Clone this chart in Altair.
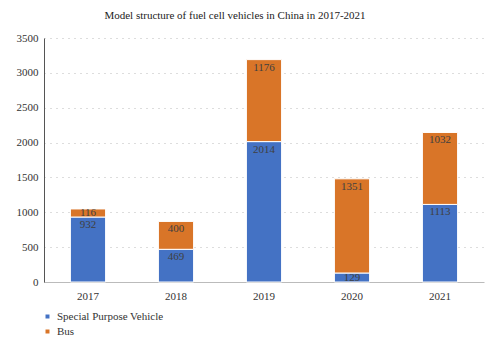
import altair as alt
import pandas as pd

years = ["2017", "2018", "2019", "2020", "2021"]
special = [932, 469, 2014, 129, 1113]
bus = [116, 400, 1176, 1351, 1032]
series = ["Special Purpose Vehicle", "Bus"]
colors = ["#4472C4", "#D97528"]
y_ticks = [0, 500, 1000, 1500, 2000, 2500, 3000, 3500]

rows = []
for y, s, b in zip(years, special, bus):
    rows.append({"year": y, "type": series[0], "value": s, "start": 0, "end": s, "ord": 0})
    rows.append({"year": y, "type": series[1], "value": b, "start": s, "end": s + b, "ord": 1})
df = pd.DataFrame(rows)

FONT = "Liberation Serif"

y_axis = alt.Axis(values=y_ticks, format="d", labelOverlap=False,
                  labelFont=FONT, labelFontSize=11, labelColor="#333",
                  ticks=False, domainColor="#555", gridColor="#bbb",
                  gridDash=[1, 5], labelPadding=6)
x_axis = alt.Axis(labelAngle=0, ticks=False, domainColor="#bbb", labelPadding=8,
                  labelFont=FONT, labelFontSize=11, labelColor="#333")
x_scale = alt.Scale(paddingInner=0.6, paddingOuter=0.3)
y_scale = alt.Scale(domain=[0, 3500])

base = alt.Chart(df)

bars = base.mark_bar(stroke="white", strokeWidth=1).encode(
    x=alt.X("year:N", title=None, sort=years, scale=x_scale, axis=x_axis),
    y=alt.Y("start:Q", title=None, scale=y_scale, axis=y_axis),
    y2="end:Q",
    color=alt.Color("type:N", sort=series, scale=alt.Scale(domain=series, range=colors),
                    legend=alt.Legend(title=None, orient="none", legendX=-2, legendY=273,
                                      symbolType="square", symbolSize=30, rowPadding=2,
                                      labelFont=FONT, labelFontSize=11, labelColor="#333")),
    order=alt.Order("ord:Q"),
)

labels = base.mark_text(
    baseline="middle", font=FONT, fontSize=11, color="#404040",
    dy=alt.expr("min(8, datum.value * 244 / 3500 / 2)"),
).encode(
    x=alt.X("year:N", title=None, sort=years, scale=x_scale, axis=x_axis),
    y=alt.Y("end:Q", title=None, scale=y_scale, axis=y_axis),
    text="value:Q",
)

chart = (bars + labels).properties(
    width=440, height=244,
    autosize=alt.AutoSizeParams(type="none"),
    padding={"left": 44, "top": 38, "right": 16, "bottom": 70},
    title=alt.TitleParams("Model structure of fuel cell vehicles in China in 2017-2021",
                          font=FONT, fontSize=11, fontWeight="normal", color="#222",
                          anchor="middle", dx=-29, offset=11),
).configure(font=FONT).configure_view(stroke=None)

chart.save("out.html", embed_options={"renderer": "svg", "actions": False})
